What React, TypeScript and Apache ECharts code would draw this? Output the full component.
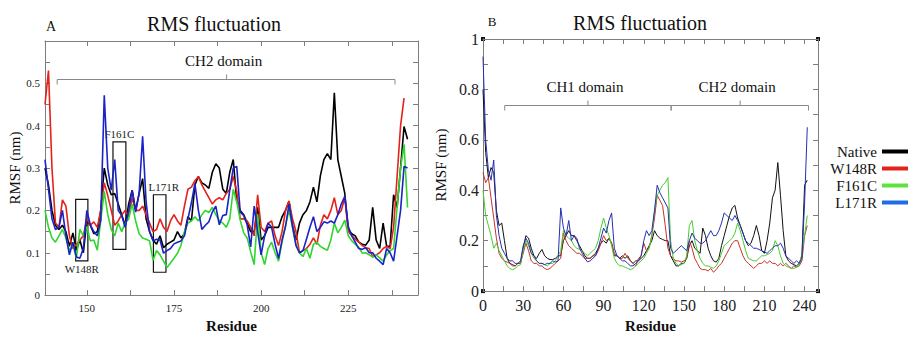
import React, { useEffect, useRef } from "react";
import * as echarts from "echarts";

const FONT = "Liberation Serif, serif";
const FRAME = "#7d7d7d";

// ---------- Panel A (residues 138-242) ----------
const residuesA = [
  138, 139, 140, 141, 142, 143, 144, 145, 146, 147,
  148, 149, 150, 151, 152, 153, 154, 155, 156, 157,
  158, 159, 160, 161, 162, 163, 164, 165, 166, 167,
  168, 169, 170, 171, 172, 173, 174, 175, 176, 177,
  178, 179, 180, 181, 182, 183, 184, 185, 186, 187,
  188, 189, 190, 191, 192, 193, 194, 195, 196, 197,
  198, 199, 200, 201, 202, 203, 204, 205, 206, 207,
  208, 209, 210, 211, 212, 213, 214, 215, 216, 217,
  218, 219, 220, 221, 222, 223, 224, 225, 226, 227,
  228, 229, 230, 231, 232, 233, 234, 235, 236, 237,
  238, 239, 240, 241, 242,
];
const nativeA = [
  0.30, 0.26, 0.20, 0.165, 0.155, 0.165, 0.15, 0.115, 0.147, 0.106,
  0.13, 0.10, 0.175, 0.165, 0.145, 0.15, 0.20, 0.30, 0.26, 0.237,
  0.24, 0.215, 0.19, 0.165, 0.215, 0.248, 0.20, 0.24, 0.275, 0.18,
  0.15, 0.13, 0.12, 0.14, 0.112, 0.12, 0.125, 0.13, 0.15, 0.135,
  0.145, 0.185, 0.175, 0.26, 0.28, 0.265, 0.26, 0.252, 0.29, 0.31,
  0.30, 0.25, 0.24, 0.29, 0.32, 0.222, 0.20, 0.19, 0.17, 0.15,
  0.15, 0.207, 0.13, 0.14, 0.16, 0.16, 0.16, 0.16, 0.185, 0.20,
  0.222, 0.165, 0.13, 0.17, 0.19, 0.20, 0.22, 0.255, 0.22, 0.282,
  0.32, 0.334, 0.32, 0.478, 0.32, 0.28, 0.24, 0.155, 0.145, 0.14,
  0.125, 0.12, 0.118, 0.13, 0.207, 0.13, 0.11, 0.17, 0.115, 0.115,
  0.237, 0.207, 0.30, 0.398, 0.368,
];
const w148rA = [
  0.45, 0.53, 0.30, 0.17, 0.16, 0.225, 0.21, 0.14, 0.11, 0.12,
  0.13, 0.14, 0.18, 0.165, 0.173, 0.16, 0.20, 0.265, 0.235, 0.20,
  0.165, 0.175, 0.19, 0.20, 0.185, 0.23, 0.20, 0.20, 0.21, 0.19,
  0.17, 0.15, 0.155, 0.18, 0.16, 0.15, 0.175, 0.19, 0.175, 0.165,
  0.21, 0.25, 0.255, 0.27, 0.28, 0.26, 0.245, 0.23, 0.215, 0.225,
  0.23, 0.225, 0.24, 0.25, 0.28, 0.245, 0.18, 0.18, 0.175, 0.16,
  0.14, 0.237, 0.16, 0.15, 0.17, 0.175, 0.14, 0.117, 0.15, 0.20,
  0.222, 0.18, 0.15, 0.10, 0.105, 0.11, 0.12, 0.135, 0.12, 0.165,
  0.19, 0.18, 0.20, 0.23, 0.19, 0.20, 0.23, 0.15, 0.14, 0.132,
  0.125, 0.117, 0.112, 0.11, 0.09, 0.095, 0.10, 0.11, 0.115, 0.11,
  0.16, 0.28, 0.40, 0.465, null,
];
const f161cA = [
  0.20, 0.16, 0.135, 0.125, 0.14, 0.155, 0.135, 0.105, 0.12, 0.087,
  0.155, 0.14, 0.162, 0.128, 0.13, 0.106, 0.177, 0.245, 0.19, 0.155,
  0.14, 0.17, 0.15, 0.17, 0.18, 0.215, 0.175, 0.145, 0.135, 0.132,
  0.128, 0.082, 0.105, 0.095, 0.08, 0.065, 0.076, 0.087, 0.099, 0.117,
  0.15, 0.17, 0.175, 0.185, 0.175, 0.19, 0.20, 0.195, 0.207, 0.19,
  0.175, 0.17, 0.16, 0.18, 0.25, 0.22, 0.177, 0.147, 0.135, 0.102,
  0.072, 0.192, 0.10, 0.072, 0.11, 0.125, 0.10, 0.08, 0.125, 0.165,
  0.20, 0.16, 0.12, 0.10, 0.091, 0.11, 0.087, 0.12, 0.125, 0.115,
  0.11, 0.106, 0.13, 0.17, 0.147, 0.16, 0.177, 0.14, 0.128, 0.12,
  0.113, 0.099, 0.10, 0.095, 0.09, 0.095, 0.088, 0.08, 0.095, 0.105,
  0.11, 0.207, 0.30, 0.356, 0.207,
];
const l171rA = [
  0.32, 0.25, 0.18, 0.155, 0.16, 0.20, 0.14, 0.095, 0.125, 0.09,
  0.087, 0.11, 0.20, 0.166, 0.15, 0.14, 0.177, 0.472, 0.30, 0.248,
  0.32, 0.20, 0.188, 0.16, 0.20, 0.248, 0.196, 0.24, 0.375, 0.22,
  0.15, 0.128, 0.132, 0.13, 0.099, 0.105, 0.11, 0.121, 0.125, 0.128,
  0.14, 0.18, 0.218, 0.263, 0.20, 0.155, 0.165, 0.173, 0.196, 0.21,
  0.166, 0.188, 0.19, 0.248, 0.30, 0.304, 0.196, 0.188, 0.166, 0.114,
  0.21, 0.15, 0.095, 0.14, 0.17, 0.16, 0.12, 0.087, 0.13, 0.162,
  0.215, 0.162, 0.117, 0.10, 0.105, 0.132, 0.16, 0.185, 0.15, 0.16,
  0.173, 0.17, 0.175, 0.17, 0.19, 0.215, 0.233, 0.162, 0.14, 0.125,
  0.11, 0.108, 0.112, 0.10, 0.10, 0.087, 0.08, 0.072, 0.11, 0.10,
  0.08, 0.14, 0.20, 0.304, 0.30,
];

// ---------- Panel B (residues 0-242, every 2nd) ----------
const residuesB = [
  0, 2, 4, 6, 8, 10, 12, 14, 16, 18,
  20, 22, 24, 26, 28, 30, 32, 34, 36, 38,
  40, 42, 44, 46, 48, 50, 52, 54, 56, 58,
  60, 62, 64, 66, 68, 70, 72, 74, 76, 78,
  80, 82, 84, 86, 88, 90, 92, 94, 96, 98,
  100, 102, 104, 106, 108, 110, 112, 114, 116, 118,
  120, 122, 124, 126, 128, 130, 132, 134, 136, 138,
  140, 142, 144, 146, 148, 150, 152, 154, 156, 158,
  160, 162, 164, 166, 168, 170, 172, 174, 176, 178,
  180, 182, 184, 186, 188, 190, 192, 194, 196, 198,
  200, 202, 204, 206, 208, 210, 212, 214, 216, 218,
  220, 222, 224, 226, 228, 230, 232, 234, 236, 238,
  240, 242,
];
const nativeB = [
  0.80, 0.55, 0.45, 0.49, 0.47, 0.32, 0.26, 0.27, 0.20, 0.13,
  0.11, 0.105, 0.10, 0.11, 0.11, 0.17, 0.22, 0.21, 0.17, 0.14,
  0.13, 0.15, 0.165, 0.14, 0.13, 0.125, 0.125, 0.13, 0.14, 0.14,
  0.20, 0.22, 0.24, 0.22, 0.22, 0.20, 0.18, 0.16, 0.14, 0.13,
  0.13, 0.14, 0.15, 0.17, 0.19, 0.20, 0.19, 0.21, 0.19, 0.14,
  0.14, 0.13, 0.14, 0.13, 0.14, 0.12, 0.11, 0.12, 0.12, 0.13,
  0.14, 0.16, 0.18, 0.20, 0.24, 0.22, 0.21, 0.205, 0.20, 0.20,
  0.14, 0.12, 0.10, 0.10, 0.11, 0.11, 0.13, 0.18, 0.20, 0.17,
  0.16, 0.15, 0.25, 0.22, 0.17, 0.14, 0.12, 0.115, 0.13, 0.18,
  0.22, 0.26, 0.30, 0.33, 0.34, 0.29, 0.26, 0.23, 0.20, 0.18,
  0.19, 0.22, 0.26, 0.22, 0.16, 0.15, 0.20, 0.27, 0.37, 0.40,
  0.51, 0.38, 0.24, 0.14, 0.12, 0.11, 0.105, 0.10, 0.11, 0.14,
  0.42, 0.44,
];
const w148rB = [
  0.47, 0.43, 0.45, 0.37, 0.29, 0.21, 0.15, 0.13, 0.12, 0.115,
  0.11, 0.10, 0.10, 0.11, 0.11, 0.15, 0.19, 0.16, 0.12, 0.11,
  0.11, 0.10, 0.10, 0.09, 0.085, 0.09, 0.10, 0.11, 0.12, 0.13,
  0.23, 0.20, 0.18, 0.17, 0.16, 0.15, 0.15, 0.14, 0.13, 0.13,
  0.13, 0.14, 0.14, 0.16, 0.19, 0.22, 0.20, 0.21, 0.19, 0.15,
  0.14, 0.13, 0.13, 0.15, 0.13, 0.12, 0.11, 0.10, 0.13, 0.14,
  0.19, 0.16, 0.17, 0.22, 0.29, 0.38, 0.36, 0.34, 0.26, 0.17,
  0.14, 0.13, 0.12, 0.12, 0.115, 0.12, 0.13, 0.20, 0.17, 0.13,
  0.11, 0.09, 0.085, 0.085, 0.08, 0.09, 0.075, 0.085, 0.10, 0.11,
  0.13, 0.15, 0.17, 0.19, 0.20, 0.20, 0.17, 0.14, 0.12, 0.11,
  0.10, 0.09, 0.10, 0.11, 0.11, 0.12, 0.11, 0.12, 0.11, 0.11,
  0.10, 0.11, 0.10, 0.11, 0.10, 0.09, 0.10, 0.095, 0.10, 0.12,
  0.22, 0.26,
];
const f161cB = [
  0.40, 0.30, 0.26, 0.22, 0.17, 0.19, 0.16, 0.14, 0.12, 0.10,
  0.09, 0.085, 0.09, 0.10, 0.105, 0.16, 0.20, 0.18, 0.15, 0.13,
  0.12, 0.11, 0.11, 0.105, 0.10, 0.11, 0.11, 0.12, 0.14, 0.16,
  0.24, 0.22, 0.21, 0.20, 0.18, 0.17, 0.165, 0.16, 0.15, 0.14,
  0.15, 0.16, 0.17, 0.20, 0.25, 0.29, 0.25, 0.22, 0.18, 0.13,
  0.11, 0.10, 0.10, 0.095, 0.09, 0.085, 0.09, 0.10, 0.11, 0.12,
  0.13, 0.15, 0.17, 0.22, 0.32, 0.38, 0.40, 0.42, 0.43, 0.45,
  0.20, 0.13, 0.11, 0.10, 0.105, 0.11, 0.14, 0.26, 0.28, 0.20,
  0.16, 0.13, 0.11, 0.10, 0.10, 0.095, 0.09, 0.10, 0.12, 0.15,
  0.18, 0.19, 0.20, 0.21, 0.23, 0.27, 0.24, 0.20, 0.16, 0.13,
  0.125, 0.12, 0.12, 0.13, 0.14, 0.14, 0.145, 0.15, 0.16, 0.20,
  0.18, 0.14, 0.11, 0.10, 0.095, 0.09, 0.09, 0.095, 0.10, 0.15,
  0.22, 0.30,
];
const l171rB = [
  0.93, 0.60, 0.48, 0.44, 0.52, 0.30, 0.22, 0.17, 0.15, 0.13,
  0.12, 0.12, 0.11, 0.11, 0.12, 0.18, 0.21, 0.19, 0.15, 0.14,
  0.12, 0.11, 0.11, 0.105, 0.11, 0.11, 0.12, 0.115, 0.12, 0.33,
  0.25, 0.22, 0.28, 0.20, 0.22, 0.21, 0.17, 0.15, 0.13, 0.116,
  0.12, 0.13, 0.14, 0.17, 0.21, 0.25, 0.23, 0.28, 0.31, 0.17,
  0.14, 0.13, 0.12, 0.12, 0.11, 0.10, 0.10, 0.11, 0.12, 0.14,
  0.20, 0.24, 0.22, 0.24, 0.32, 0.42, 0.39, 0.37, 0.35, 0.33,
  0.17, 0.15, 0.16, 0.17, 0.18, 0.17, 0.16, 0.20, 0.23, 0.21,
  0.20, 0.19, 0.19, 0.20, 0.22, 0.24, 0.22, 0.22, 0.24, 0.27,
  0.31, 0.30, 0.29, 0.28, 0.30, 0.28, 0.26, 0.23, 0.20, 0.19,
  0.18, 0.17, 0.17, 0.165, 0.16, 0.155, 0.15, 0.16, 0.17, 0.18,
  0.18, 0.19, 0.17, 0.14, 0.13, 0.12, 0.11, 0.12, 0.11, 0.13,
  0.35, 0.65,
];

const seriesNames = ["Native", "W148R", "F161C", "L171R"];
const colorsA = ["#000000", "#e3221c", "#2fd62f", "#1b22c8"];
const colorsB = ["#111111", "#c8302a", "#46cc2e", "#2530b0"];
const legendColors = ["#000000", "#e3221c", "#5ee33c", "#1f6de6"];

// ticks & labels
const xTicksA = [150, 162.5, 175, 187.5, 200, 212.5, 225, 237.5];
const xLabelsA = [150, 175, 200, 225];
const yTicksA = [0.05, 0.1, 0.15, 0.2, 0.25, 0.3, 0.35, 0.4, 0.45, 0.5, 0.55];
const yLabelsA = [0, 0.1, 0.2, 0.3, 0.4, 0.5];
const xTicksB = [15, 30, 45, 60, 75, 90, 105, 120, 135, 150, 165, 180, 195, 210, 225, 240];
const xLabelsB = [0, 30, 60, 90, 120, 150, 180, 210, 240];
const yTicksB = [0.1, 0.2, 0.3, 0.4, 0.5, 0.6, 0.7, 0.8, 0.9];
const yLabelsB = [0, 0.2, 0.4, 0.6, 0.8, 1];

// annotation boxes (panel A) : residue range, RMSF range
const boxesA = [
  { name: "W148R", x0: 146.8, x1: 150.3, y0: 0.081, y1: 0.226, pos: "bottom", dx: 0 },
  { name: "F161C", x0: 157.5, x1: 161.2, y0: 0.108, y1: 0.362, pos: "top", dx: 0 },
  { name: "L171R", x0: 169.1, x1: 172.7, y0: 0.054, y1: 0.237, pos: "top", dx: 4 },
];
// domain brackets
const bracketsA = [{ label: "CH2 domain", from: 141.5, to: 238.4, mid: 190.1, level: 0.511 }];
const bracketsB = [
  { label: "CH1 domain", from: 16.2, to: 140.4, mid: 78.3, level: 0.74 },
  { label: "CH2 domain", from: 140.4, to: 242.9, mid: 191.9, level: 0.74 },
];

function makeAxis(
  gridIndex: number,
  min: number,
  max: number,
  position: string,
  ticks: number[],
  labels: number[] | null,
  labelSize: number,
  margin: number,
  extra: any = {}
) {
  return {
    type: "value",
    gridIndex,
    min,
    max,
    position,
    axisLine: { show: true, onZero: false, lineStyle: { color: FRAME, width: 1 } },
    axisTick: { show: true, inside: true, length: 5, customValues: ticks, lineStyle: { color: FRAME, width: 1 } },
    axisLabel: labels
      ? { show: true, customValues: labels, fontFamily: FONT, fontSize: labelSize, color: "#222", margin }
      : { show: false },
    splitLine: { show: false },
    ...extra,
  };
}

export default function App() {
  const ref = useRef<HTMLDivElement>(null);
  useEffect(() => {
    if (!ref.current) return;
    const chart = echarts.init(ref.current, undefined, { renderer: "svg" });
    const dataA = [nativeA, w148rA, f161cA, l171rA];
    const dataB = [nativeB, w148rB, f161cB, l171rB];
    const nameStyleX = { fontFamily: FONT, fontSize: 15, fontWeight: "bold", color: "#111" };
    const nameStyleY = { fontFamily: FONT, fontSize: 15, color: "#111" };

    const series: any[] = [];
    seriesNames.forEach((name, i) => {
      series.push({
        name,
        type: "line",
        xAxisIndex: 0,
        yAxisIndex: 0,
        showSymbol: false,
        symbol: "none",
        connectNulls: false,
        lineStyle: { color: colorsA[i], width: 1.6 },
        itemStyle: { color: colorsA[i] },
        data: residuesA.map((r, k) => [r, dataA[i][k]]),
        markArea:
          i === 0
            ? {
                silent: true,
                itemStyle: { color: "rgba(0,0,0,0)", borderColor: "#111", borderWidth: 1.2 },
                label: { fontFamily: FONT, fontSize: 11, color: "#222" },
                data: boxesA.map((b) => [
                  { name: b.name, coord: [b.x0, b.y1], label: { position: b.pos, distance: 2, offset: [b.dx, 0] } },
                  { coord: [b.x1, b.y0] },
                ]),
              }
            : undefined,
      });
    });
    seriesNames.forEach((name, i) => {
      series.push({
        name,
        type: "line",
        xAxisIndex: 2,
        yAxisIndex: 2,
        showSymbol: false,
        symbol: "none",
        lineStyle: { color: colorsB[i], width: 1 },
        itemStyle: { color: colorsB[i] },
        data: residuesB.map((r, k) => [r, dataB[i][k]]),
      });
    });

    chart.setOption({
      animation: false,
      backgroundColor: "#ffffff",
      textStyle: { fontFamily: FONT },
      grid: [
        { left: 45, top: 41, width: 373, height: 268, containLabel: false },
        { left: 483, top: 39, width: 335, height: 265, containLabel: false },
      ],
      xAxis: [
        makeAxis(0, 138, 245, "bottom", xTicksA, xLabelsA, 11, 7, {
          name: "Residue",
          nameLocation: "middle",
          nameGap: 19,
          nameTextStyle: nameStyleX,
        }),
        makeAxis(0, 138, 245, "top", xTicksA, null, 11, 4),
        makeAxis(1, 0, 250, "bottom", xTicksB, xLabelsB, 16, 6, {
          name: "Residue",
          nameLocation: "middle",
          nameGap: 22,
          nameTextStyle: nameStyleX,
        }),
        makeAxis(1, 0, 250, "top", xTicksB, null, 16, 3),
      ],
      yAxis: [
        makeAxis(0, 0, 0.6, "left", yTicksA, yLabelsA, 11, 5, {
          name: "RMSF (nm)",
          nameLocation: "middle",
          nameGap: 22,
          nameTextStyle: nameStyleY,
        }),
        makeAxis(0, 0, 0.6, "right", yTicksA, null, 11, 5),
        makeAxis(1, 0, 1, "left", yTicksB, yLabelsB, 16, 4, {
          name: "RMSF (nm)",
          nameLocation: "middle",
          nameGap: 35,
          nameTextStyle: nameStyleY,
        }),
        makeAxis(1, 0, 1, "right", yTicksB, null, 16, 4),
      ],
      legend: {
        orient: "vertical",
        left: 827,
        top: 143,
        align: "right",
        padding: 0,
        itemGap: 0,
        itemWidth: 30,
        itemHeight: 4,
        icon: "rect",
        textStyle: { fontFamily: FONT, fontSize: 15, color: "#111", width: 50, lineHeight: 17 },
        data: seriesNames.map((n, i) => ({ name: n, itemStyle: { color: legendColors[i] } })),
      },
      series,
    });

    // annotations placed through the axes' own scales
    const graphic: any[] = [];
    const pushBracket = (b: any, gridIndex: number) => {
      const finder = { xAxisIndex: gridIndex * 2, yAxisIndex: gridIndex * 2 };
      const p0 = chart.convertToPixel(finder as any, [b.from, b.level]) as number[];
      const p1 = chart.convertToPixel(finder as any, [b.to, b.level]) as number[];
      const pm = chart.convertToPixel(finder as any, [b.mid, b.level]) as number[];
      const y = Math.round(p0[1]) + 0.5;
      graphic.push({
        type: "polyline",
        shape: { points: [[p0[0], y + 5], [p0[0], y], [p1[0], y], [p1[0], y + 5]] },
        style: { stroke: "#888", lineWidth: 1, fill: null },
        silent: true,
      });
      graphic.push({
        type: "line",
        shape: { x1: pm[0], y1: y, x2: pm[0], y2: y - 5 },
        style: { stroke: "#888", lineWidth: 1 },
        silent: true,
      });
      graphic.push({
        type: "text",
        x: pm[0] - 3,
        y: y - 19,
        style: { text: b.label, fontFamily: FONT, fontSize: 15, fill: "#111", align: "center", verticalAlign: "middle" },
        silent: true,
      });
    };
    bracketsA.forEach((b) => pushBracket(b, 0));
    bracketsB.forEach((b) => pushBracket(b, 1));

    // titles & panel letters
    graphic.push({
      type: "text",
      x: 214,
      y: 24,
      style: { text: "RMS fluctuation", fontFamily: FONT, fontSize: 20, fill: "#111", align: "center", verticalAlign: "middle" },
    });
    graphic.push({
      type: "text",
      x: 640,
      y: 23,
      style: { text: "RMS fluctuation", fontFamily: FONT, fontSize: 20, fill: "#111", align: "center", verticalAlign: "middle" },
    });
    graphic.push({
      type: "text",
      x: 51,
      y: 26,
      style: { text: "A", fontFamily: FONT, fontSize: 14, fill: "#111", align: "center", verticalAlign: "middle" },
    });
    graphic.push({
      type: "text",
      x: 492,
      y: 21,
      style: { text: "B", fontFamily: FONT, fontSize: 13, fill: "#111", align: "center", verticalAlign: "middle" },
    });

    // corner markers of panel B
    const finderB = { xAxisIndex: 2, yAxisIndex: 2 };
    [
      [0, 0],
      [250, 0],
      [0, 1],
      [250, 1],
    ].forEach((c) => {
      const p = chart.convertToPixel(finderB as any, c) as number[];
      graphic.push({
        type: "rect",
        shape: { x: p[0] - 2, y: p[1] - 2, width: 4, height: 4 },
        style: { fill: "#111" },
        silent: true,
      });
    });

    chart.setOption({ graphic });

    return () => chart.dispose();
  }, []);
  return <div ref={ref} style={{ position: "absolute", left: 0, top: 0, width: 908, height: 338 }} />;
}
